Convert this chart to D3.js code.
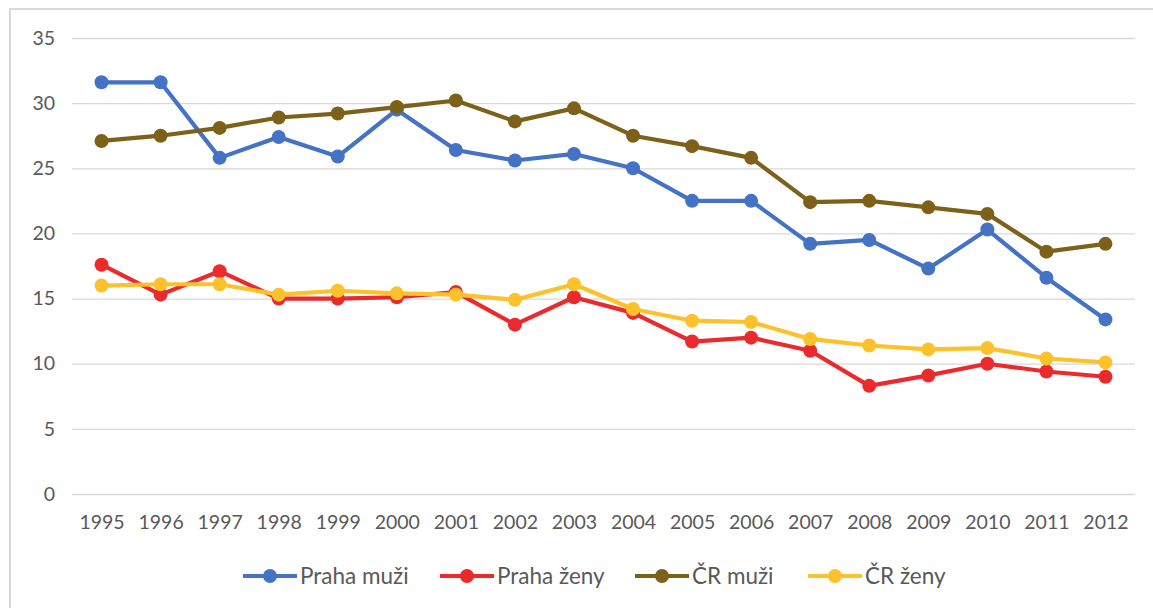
<!DOCTYPE html>
<html>
<head>
<meta charset="utf-8">
<script src="https://cdn.jsdelivr.net/npm/d3@7"></script>
<style>
  body { margin: 0; background: #fff; }
  text { font-family: Lato, "Open Sans", sans-serif; fill: #595959; }
</style>
</head>
<body>
<div id="chart"></div>
<script>
// years on the x axis
const years = ["1995","1996","1997","1998","1999","2000","2001","2002","2003",
               "2004","2005","2006","2007","2008","2009","2010","2011","2012"]

// series values
const prahaMuzi = [31.6,31.6,25.8,27.4,25.9,29.5,26.4,25.6,26.1,25.0,22.5,22.5,19.2,19.5,17.3,20.3,16.6,13.4]
const prahaZeny = [17.6,15.3,17.1,15.0,15.0,15.1,15.5,13.0,15.1,13.9,11.7,12.0,11.0,8.3,9.1,10.0,9.4,9.0]
const crMuzi    = [27.1,27.5,28.1,28.9,29.2,29.7,30.2,28.6,29.6,27.5,26.7,25.8,22.4,22.5,22.0,21.5,18.6,19.2]
const crZeny    = [16.0,16.1,16.1,15.3,15.6,15.4,15.3,14.9,16.1,14.2,13.3,13.2,11.9,11.4,11.1,11.2,10.4,10.1]

const seriesNames = ["Praha muži", "Praha ženy", "ČR muži", "ČR ženy"]
const yTicks = [0, 5, 10, 15, 20, 25, 30, 35]

const colors = ["#4472c4", "#eb2a2e", "#7e6119", "#fdc22b"]
const series = [prahaMuzi, prahaZeny, crMuzi, crZeny].map((v, i) => ({name: seriesNames[i], values: v, color: colors[i]}))

const width = 1153, height = 608,
    margin = ({top: 38, right: 18, bottom: 114, left: 72})

let svg = d3.select("#chart").append("svg")
    .attr("width", width).attr("height", height)

// chart frame
svg.append("rect")
    .attr("x", 10).attr("y", 9)
    .attr("width", width).attr("height", height)
    .attr("fill", "none").attr("stroke", "#d9d9d9").attr("stroke-width", 2)

let x = d3.scalePoint()
    .domain(years)
    .range([margin.left, width - margin.right])
    .padding(0.5)

let y = d3.scaleLinear()
    .domain([0, 35])
    .range([height - margin.bottom, margin.top])

// grid + y labels
const yAxis = g => g
    .attr("transform", `translate(${margin.left}, 0)`)
    .call(d3.axisLeft(y).tickValues(yTicks).tickSize(-(width - margin.right - margin.left)).tickPadding(17))
    .call(g => g.select(".domain").remove())
    .call(g => g.selectAll(".tick line").attr("stroke", "#d9d9d9").attr("stroke-width", 1.3))
    .call(g => g.selectAll(".tick text").attr("font-size", 19.5).attr("fill", "#595959"))

const xAxis = g => g
    .attr("transform", `translate(0, ${height - margin.bottom})`)
    .call(d3.axisBottom(x).tickSize(0).tickPadding(21))
    .call(g => g.select(".domain").remove())
    .call(g => g.selectAll(".tick text").attr("font-size", 19.5).attr("fill", "#595959"))

svg.append("g").call(yAxis)
svg.append("g").call(xAxis)

const line = d3.line()
    .x((d, i) => x(years[i]))
    .y(d => y(d))

let s = svg.selectAll(".series")
    .data(series)
    .join("g")
    .attr("class", "series")

s.append("path")
    .attr("d", d => line(d.values))
    .attr("fill", "none")
    .attr("stroke", d => d.color)
    .attr("stroke-width", 4.2)
    .attr("stroke-linejoin", "round")

s.selectAll("circle")
    .data(d => d.values.map((v, i) => ({v, i, color: d.color})))
    .join("circle")
    .attr("cx", d => x(years[d.i]))
    .attr("cy", d => y(d.v))
    .attr("r", 7)
    .attr("fill", d => d.color)

// legend
const legendX = [243, 440, 635, 808]
let legend = svg.selectAll(".legend")
    .data(series)
    .join("g")
    .attr("class", "legend")
    .attr("transform", (d, i) => `translate(${legendX[i]}, 576)`)

legend.append("line")
    .attr("x1", 0).attr("x2", 54)
    .attr("stroke", d => d.color).attr("stroke-width", 4.2)
legend.append("circle")
    .attr("cx", 27).attr("r", 7).attr("fill", d => d.color)
legend.append("text")
    .attr("x", 57).attr("dy", "0.35em")
    .attr("font-size", 22.5)
    .text(d => d.name)
</script>
</body>
</html>
